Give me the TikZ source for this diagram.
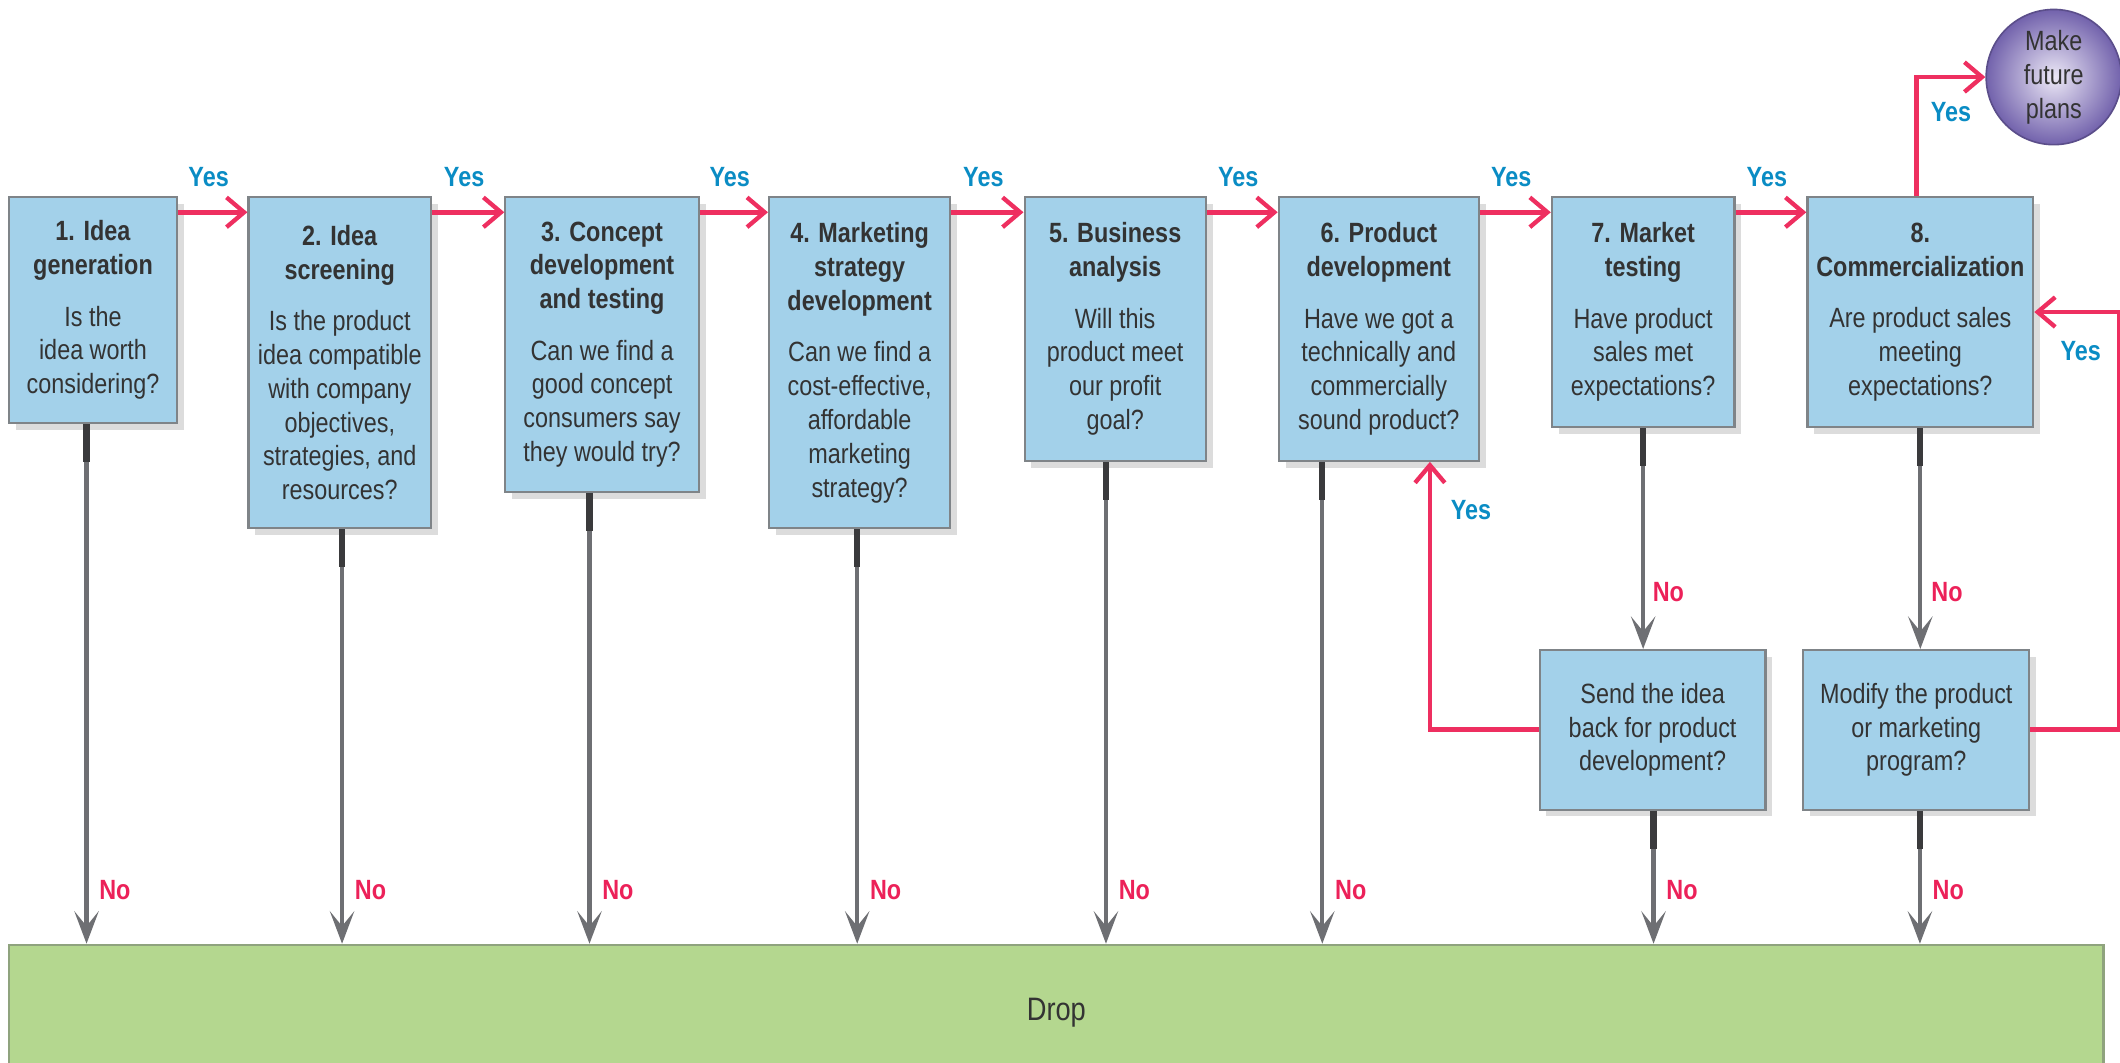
\documentclass[tikz,border=0pt]{standalone}
\usepackage{fontspec}
\setmainfont{Liberation Sans}[FakeStretch=0.84]
\usetikzlibrary{arrows.meta,shadows,calc}
\definecolor{boxblue}{HTML}{A3D1EA}
\definecolor{boxedge}{HTML}{7F8488}
\definecolor{txt}{HTML}{333333}
\definecolor{yesc}{HTML}{0A8CC4}
\definecolor{noc}{HTML}{EC2159}
\definecolor{pinkc}{HTML}{EE2F60}
\definecolor{grayarr}{HTML}{6E6F73}
\definecolor{darkseg}{HTML}{3A3A3C}
\definecolor{dropg}{HTML}{B4D78F}
\definecolor{dropedge}{HTML}{8FA37E}
\definecolor{purpin}{HTML}{ECE8F6}
\definecolor{purpout}{HTML}{7262AC}
\begin{document}
\begin{tikzpicture}[x=0.5pt,y=-0.5pt,
  stage/.style={draw=boxedge, line width=0.8pt, fill=boxblue, anchor=north west,
    align=center, inner sep=0pt, text=txt, font=\fontsize{10.3}{12.5}\selectfont,
    drop shadow={opacity=0.28, shadow xshift=2.5pt, shadow yshift=-2.5pt}},
  yesarr/.style={draw=pinkc, line width=1.8pt, -{Straight Barb[length=6.5pt,width=11pt,line width=1.6pt]}},
  noarr/.style={draw=grayarr, line width=1.6pt, -{Stealth[length=12pt,width=9pt,inset=5.5pt]}},
  dseg/.style={draw=darkseg, line width=2.3pt},
  yes/.style={text=yesc, font=\fontsize{10.3}{12}\selectfont\bfseries, inner sep=0pt},
  no/.style={text=noc, font=\fontsize{10.3}{12}\selectfont\bfseries, inner sep=0pt},
]
\useasboundingbox (0,0) rectangle (1568,786);
\clip (0,0) rectangle (1568,786);

% drop box
\node[draw=dropedge, line width=0.8pt, fill=dropg, anchor=north west, minimum width=774.5pt,
  minimum height=50pt, inner sep=0pt, text=txt, font=\fontsize{12}{14}\selectfont] (drop) at (6,698) {Drop};

% stage boxes
\node[stage, minimum width=62pt, minimum height=83.5pt] (b1) at (6,145)
  {\textbf{1. Idea}\\\textbf{generation}\\[6.5pt]Is the\\idea worth\\considering?};
\node[stage, minimum width=67.5pt, minimum height=122.5pt] (b2) at (183,145)
  {\textbf{2. Idea}\\\textbf{screening}\\[6.5pt]Is the product\\idea compatible\\with company\\objectives,\\strategies, and\\resources?};
\node[stage, minimum width=71.5pt, minimum height=109pt] (b3) at (373,145)
  {\textbf{3. Concept}\\\textbf{development}\\\textbf{and testing}\\[6.5pt]Can we find a\\good concept\\consumers say\\they would try?};
\node[stage, minimum width=67pt, minimum height=122.5pt] (b4) at (568,145)
  {\textbf{4. Marketing}\\\textbf{strategy}\\\textbf{development}\\[6.5pt]Can we find a\\cost-effective,\\affordable\\marketing\\strategy?};
\node[stage, minimum width=67pt, minimum height=97.5pt] (b5) at (757,145)
  {\textbf{5. Business}\\\textbf{analysis}\\[6.5pt]Will this\\product meet\\our profit\\goal?};
\node[stage, minimum width=74pt, minimum height=97.5pt] (b6) at (945,145)
  {\textbf{6. Product}\\\textbf{development}\\[6.5pt]Have we got a\\technically and\\commercially\\sound product?};
\node[stage, minimum width=67.5pt, minimum height=85pt] (b7) at (1147,145)
  {\textbf{7. Market}\\\textbf{testing}\\[6.5pt]Have product\\sales met\\expectations?};
\node[stage, minimum width=83.5pt, minimum height=85pt] (b8) at (1336,145)
  {\textbf{8.}\\\textbf{Commercialization}\\[6.5pt]Are product sales\\meeting\\expectations?};
\node[stage, minimum width=83.5pt, minimum height=59pt] (send) at (1138,480)
  {Send the idea\\back for product\\development?};
\node[stage, minimum width=83.5pt, minimum height=59pt] (mod) at (1333,480)
  {Modify the product\\or marketing\\program?};

% future plans circle
\node[circle, draw=purpout!80!black, line width=0.6pt, inner color=purpin, outer color=purpout,
  minimum size=50pt, inner sep=0pt, align=center, text=txt,
  font=\fontsize{10.3}{12.5}\selectfont] (plan) at (1519,57) {Make\\future\\plans};

% yes arrows between stages
\foreach \a/\b in {b1/b2,b2/b3,b3/b4,b4/b5,b5/b6,b6/b7,b7/b8}{
  \draw[yesarr] ([yshift=-6pt]\a.north east) -- node[yes, midway, above=8.6pt, xshift=-1.5pt] (y\a) {Yes} ([yshift=-6pt]\b.north west);
}
% commercialization -> plans
\draw[yesarr] ([xshift=-1.5pt]b8.north) |- (plan.west);
\node[yes] (y8) at (1443,83) {Yes};
% send back -> product development
\draw[yesarr] (send.west) -| ([xshift=-18.5pt]b6.south east);
\node[yes] (ysend) at (1088,377) {Yes};
% modify -> commercialization
\draw[yesarr] (mod.east) -- ++(66,0) |- (b8.east);
\node[yes] (ymod) at (1539,260) {Yes};

% no arrows to drop
\foreach \n/\x in {b1/64,b2/253,b3/436,b4/634,b5/818,b6/978,send/1223,mod/1420}{
  \draw[noarr] (\n.south -| \x,0) -- (drop.north -| \x,0);
  \draw[dseg] (\n.south -| \x,0) -- ++(0,28);
  \node[no] (n\n) at (\x+21,658) {No};
}
% no arrows to second row
\draw[noarr] (b7.south) -- (b7.south |- send.north);
\draw[dseg] (b7.south) -- ++(0,28);
\node[no] (nb7) at (1234,438) {No};
\draw[noarr] (b8.south) -- (b8.south |- mod.north);
\draw[dseg] (b8.south) -- ++(0,28);
\node[no] (nb8) at (1440,438) {No};
\end{tikzpicture}
\end{document}
